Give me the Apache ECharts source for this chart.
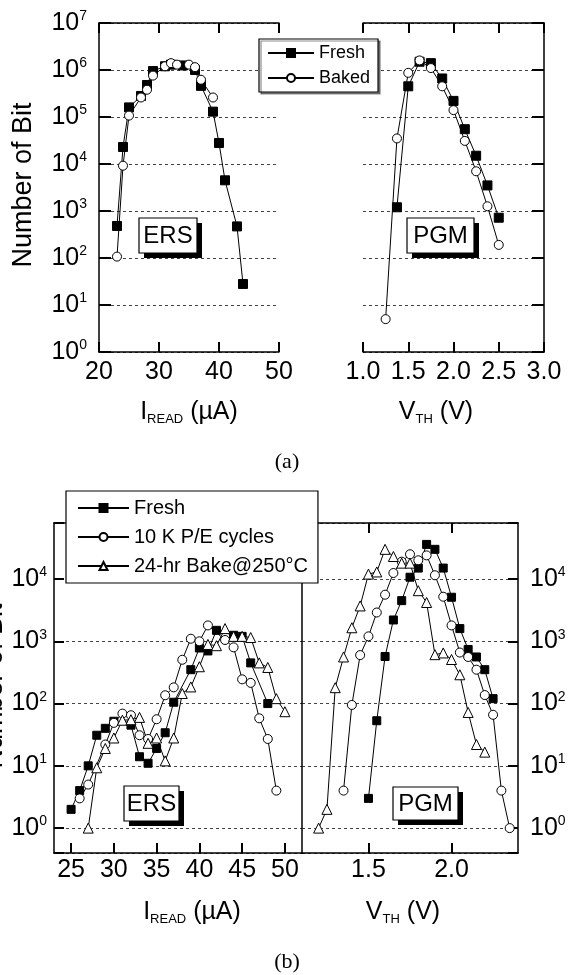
<!DOCTYPE html>
<html>
<head>
<meta charset="utf-8">
<script src="https://cdn.jsdelivr.net/npm/echarts@6/dist/echarts.min.js"></script>
<style>
  html, body { margin: 0; padding: 0; background: #fff; }
  #chart { width: 571px; height: 975px; }
</style>
</head>
<body>
<div id="chart"></div>
<script>
// ---- (a) erase window, I_READ in uA ----
const aErsFreshI = [23, 24, 25, 27, 28, 29, 31, 32, 34, 36, 37, 39, 40, 41, 43, 44];
const aErsFreshN = [480, 2.3e4, 1.6e5, 2.8e5, 4.8e5, 9.5e5, 1.2e6, 1.3e6, 1.25e6, 1.0e6, 4.6e5, 1.3e5, 2.8e4, 4.5e3, 470, 28];
const aErsBakedI = [23, 24, 25, 27, 28, 29, 31, 32, 33, 35, 36, 37, 39];
const aErsBakedN = [107, 9.2e3, 1.07e5, 2.6e5, 3.8e5, 7.6e5, 1.2e6, 1.4e6, 1.3e6, 1.3e6, 1.15e6, 6.2e5, 2.6e5];

// ---- (a) program window, V_TH in V ----
const aPgmFreshV = [1.375, 1.5, 1.625, 1.75, 1.875, 2.0, 2.125, 2.25, 2.375, 2.5];
const aPgmFreshN = [1.2e3, 4.5e5, 1.5e6, 1.4e6, 6.6e5, 2.2e5, 5.5e4, 1.5e4, 3.5e3, 720];
const aPgmBakedV = [1.25, 1.375, 1.5, 1.625, 1.75, 1.875, 2.0, 2.125, 2.25, 2.375, 2.5];
const aPgmBakedN = [5, 3.5e4, 8.7e5, 1.6e6, 1.1e6, 4.5e5, 1.4e5, 3.1e4, 7e3, 1.26e3, 190];

// ---- (b) erase window ----
const bErsFreshI = [25, 26, 27, 28, 29, 30, 32, 33, 34, 35, 36, 37, 39, 40, 41, 42, 44, 45, 46, 48];
const bErsFreshN = [2, 4, 10, 31, 40, 52, 45, 14, 11, 19, 34, 105, 350, 780, 700, 1500, 1250, 1200, 450, 100];
const bErsCycI = [26, 27, 29, 30, 31, 32, 33, 34, 35, 36, 37, 38, 39, 40, 41, 43, 44, 45, 46, 47, 48, 49];
const bErsCycN = [3, 5, 22, 49, 69, 65, 31, 27, 56, 136, 182, 505, 1100, 1000, 1800, 1050, 800, 245, 215, 58, 27, 4];
const bErsBakeI = [27, 28, 29, 30, 31, 32, 33, 34, 35, 36, 37, 38, 39, 40, 41, 42, 43, 44, 45, 46, 47, 48, 49, 50];
const bErsBakeN = [1, 9.3, 19, 28, 54, 55, 60, 23, 28, 12, 28, 145, 185, 390, 890, 850, 1600, 1200, 1200, 1150, 450, 380, 120, 74];

// ---- (b) program window ----
const bPgmFreshV = [1.5, 1.55, 1.6, 1.65, 1.7, 1.75, 1.8, 1.85, 1.9, 1.95, 2.0, 2.05, 2.1, 2.15, 2.2, 2.25];
const bPgmFreshN = [3, 53, 570, 2200, 4500, 1.07e4, 1.5e4, 3.6e4, 3.0e4, 1.5e4, 5100, 1600, 740, 560, 350, 120];
const bPgmCycV = [1.35, 1.4, 1.45, 1.5, 1.55, 1.6, 1.65, 1.7, 1.75, 1.8, 1.85, 1.9, 1.95, 2.0, 2.05, 2.1, 2.15, 2.2, 2.25, 2.3, 2.35];
const bPgmCycN = [4, 95, 600, 1200, 2900, 5600, 1.25e4, 1.9e4, 2.5e4, 2.0e4, 2.4e4, 1.15e4, 5200, 1800, 660, 560, 350, 137, 66, 4, 1];
const bPgmBakeV = [1.2, 1.25, 1.3, 1.35, 1.4, 1.45, 1.5, 1.55, 1.6, 1.65, 1.7, 1.75, 1.8, 1.85, 1.9, 1.95, 2.0, 2.05, 2.1, 2.15, 2.2];
const bPgmBakeN = [1, 2, 180, 560, 1650, 3700, 1.2e4, 1.3e4, 3.0e4, 2.3e4, 1.8e4, 1.8e4, 6500, 4200, 610, 650, 510, 290, 72, 22, 16.6];

// tick labels
const bErsTicks = [25, 30, 35, 40, 45, 50];
const bPgmTicks = [1.5, 2.0];

const F = '"Liberation Sans", Arial, sans-serif';

const chart = echarts.init(document.getElementById('chart'), null, { renderer: 'canvas' });

function pairs(xs, ys) { return xs.map((x, i) => [x, ys[i]]); }

function series(name, xs, ys, xi, yi, kind, size) {
  const fill = kind === 'rect' ? '#000' : '#fff';
  return {
    name: name, type: 'line', xAxisIndex: xi, yAxisIndex: yi,
    data: pairs(xs, ys), symbol: kind, symbolSize: size,
    showAllSymbol: true, clip: false,
    lineStyle: { color: '#000', width: 1 },
    itemStyle: { color: fill, borderColor: '#000', borderWidth: 1 },
    emphasis: { disabled: true }, animation: false
  };
}

const supRich = {
  b: { fontSize: 25, fontFamily: F, color: '#000' },
  s: { fontSize: 14, fontFamily: F, color: '#000', padding: [0, 0, 13, 0] }
};
function supLabel(v) {
  const e = Math.log10(v);
  if (Math.abs(e - Math.round(e)) > 1e-6) return '';
  return '{b|10}{s|' + Math.round(e) + '}';
}

const dash = { type: [3, 3], color: '#444', width: 1 };

function logY(grid, pos, min, max, labels, margin, tickLen) {
  return {
    type: 'log', logBase: 10, gridIndex: grid, position: pos, min: min, max: max,
    axisLine: { show: true, onZero: false, lineStyle: { color: '#000', width: 1.5 } },
    axisTick: { show: true, inside: true, length: tickLen, lineStyle: { color: '#000', width: 2 } },
    axisLabel: { show: labels, margin: margin, formatter: supLabel, rich: supRich },
    splitLine: { show: true, lineStyle: dash },
    minorTick: { show: false }, minorSplitLine: { show: false }
  };
}

function valX(grid, pos, min, max, opts) {
  const ax = {
    type: 'value', gridIndex: grid, position: pos, min: min, max: max,
    axisLine: { show: true, onZero: false, lineStyle: { color: '#000', width: 1.5 } },
    axisTick: { show: true, inside: true, length: 10, lineStyle: { color: '#000', width: 2 } },
    axisLabel: { show: pos === 'bottom', margin: opts.margin || 8, fontSize: 25, fontFamily: F, color: '#000',
      formatter: opts.fmt || (v => String(v)) },
    splitLine: { show: false }
  };
  if (opts.interval) ax.interval = opts.interval;
  if (opts.ticks) {
    ax.axisLabel.customValues = opts.ticks;
    ax.axisTick.customValues = opts.ticks;
  }
  return ax;
}

const fix1 = v => v.toFixed(1);

const option = {
  animation: false,
  backgroundColor: '#fff',
  grid: [
    { left: 99, top: 23, width: 180, height: 329 },
    { left: 363, top: 23, width: 181, height: 329 },
    { left: 54, top: 523, width: 248, height: 330 },
    { left: 302, top: 523, width: 216, height: 330 }
  ],
  xAxis: [
    valX(0, 'bottom', 20, 50, { interval: 10 }),
    valX(0, 'top', 20, 50, { interval: 10 }),
    valX(1, 'bottom', 1, 3, { interval: 0.5, fmt: fix1 }),
    valX(1, 'top', 1, 3, { interval: 0.5 }),
    valX(2, 'bottom', 23, 52, { ticks: bErsTicks, margin: 5 }),
    valX(2, 'top', 23, 52, { ticks: bErsTicks }),
    valX(3, 'bottom', 1.1, 2.4, { ticks: bPgmTicks, fmt: fix1, margin: 5 }),
    valX(3, 'top', 1.1, 2.4, { ticks: bPgmTicks })
  ],
  yAxis: [
    logY(0, 'left', 1, 1e7, true, 12, 12),
    logY(1, 'right', 1, 1e7, false, 12, 12),
    logY(2, 'left', Math.pow(10, -0.4), Math.pow(10, 4.9), true, 7, 10),
    logY(3, 'right', Math.pow(10, -0.4), Math.pow(10, 4.9), true, 12, 10),
    {
      type: 'log', logBase: 10, gridIndex: 3, position: 'left',
      min: Math.pow(10, -0.4), max: Math.pow(10, 4.9),
      axisLine: { show: true, onZero: false, lineStyle: { color: '#000', width: 1.5 } },
      axisTick: { show: false }, axisLabel: { show: false }, splitLine: { show: false }
    }
  ],
  legend: [
    {
      data: ['Fresh', 'Baked'], orient: 'vertical', left: 259, top: 39,
      itemWidth: 46, itemHeight: 10, itemGap: 7, padding: [5, 8, 5, 8],
      backgroundColor: '#fff', borderColor: '#000', borderWidth: 1.2,
      shadowColor: 'rgba(0,0,0,0.45)', shadowOffsetX: 2, shadowOffsetY: 2, shadowBlur: 0,
      textStyle: { fontSize: 18, fontFamily: F, color: '#000' }, selectedMode: false
    },
    {
      data: ['Fresh', '10 K P/E cycles', '24-hr Bake@250°C'], orient: 'vertical', left: 66, top: 491,
      itemWidth: 51, itemHeight: 10, itemGap: 9, padding: [7, 10, 7, 11],
      backgroundColor: '#fff', borderColor: '#000', borderWidth: 1.2,
      textStyle: { fontSize: 20, fontFamily: F, color: '#000' }, selectedMode: false
    }
  ],
  series: [
    series('Fresh', aErsFreshI, aErsFreshN, 0, 0, 'rect', 9),
    series('Baked', aErsBakedI, aErsBakedN, 0, 0, 'circle', 9),
    series('Fresh', aPgmFreshV, aPgmFreshN, 2, 1, 'rect', 9),
    series('Baked', aPgmBakedV, aPgmBakedN, 2, 1, 'circle', 9),
    series('Fresh', bErsFreshI, bErsFreshN, 4, 2, 'rect', 8),
    series('10 K P/E cycles', bErsCycI, bErsCycN, 4, 2, 'circle', 9),
    series('24-hr Bake@250°C', bErsBakeI, bErsBakeN, 4, 2, 'triangle', 10),
    series('Fresh', bPgmFreshV, bPgmFreshN, 6, 3, 'rect', 8),
    series('10 K P/E cycles', bPgmCycV, bPgmCycN, 6, 3, 'circle', 9),
    series('24-hr Bake@250°C', bPgmBakeV, bPgmBakeN, 6, 3, 'triangle', 10)
  ],
  graphic: []
};

function tagBox(x, y, w, h, label) {
  return [
    { type: 'rect', z: 100, shape: { x: x + 5, y: y + 5, width: w, height: h }, style: { fill: '#000' } },
    { type: 'rect', z: 101, shape: { x: x, y: y, width: w, height: h }, style: { fill: '#fff', stroke: '#000', lineWidth: 1.2 } },
    { type: 'text', z: 102, x: x + w / 2, y: y + h / 2 + 1,
      style: { text: label, fill: '#000', font: '24px ' + F, textAlign: 'center', textVerticalAlign: 'middle' } }
  ];
}

const titleRich = {
  m: { fontSize: 25, fontFamily: F, color: '#000' },
  s: { fontSize: 13, fontFamily: F, color: '#000', padding: [15, 0, 0, 0] }
};
function axisTitle(x, y, main, sub, rest) {
  return { type: 'text', z: 100, x: x, y: y,
    style: { text: '{m|' + main + '}{s|' + sub + '}{m|' + rest + '}', rich: titleRich,
      textAlign: 'center', textVerticalAlign: 'middle' } };
}

option.graphic = [].concat(
  tagBox(139, 218, 58, 35, 'ERS'),
  tagBox(407, 218, 67, 35, 'PGM'),
  tagBox(124, 786, 55, 35, 'ERS'),
  tagBox(393, 787, 65, 33, 'PGM'),
  [
    axisTitle(189, 412, 'I', 'READ', ' (\u00b5A)'),
    axisTitle(436, 412, 'V', 'TH', ' (V)'),
    axisTitle(192, 912, 'I', 'READ', ' (\u00b5A)'),
    axisTitle(403, 912, 'V', 'TH', ' (V)'),
    { type: 'text', z: 100, x: 287, y: 462,
      style: { text: '(a)', fill: '#000', font: '22px "Liberation Serif", "Times New Roman", serif', textAlign: 'center', textVerticalAlign: 'middle' } },
    { type: 'text', z: 100, x: 287, y: 962,
      style: { text: '(b)', fill: '#000', font: '22px "Liberation Serif", "Times New Roman", serif', textAlign: 'center', textVerticalAlign: 'middle' } },
    { type: 'text', z: 100, x: 24, y: 185, rotation: Math.PI / 2,
      style: { text: 'Number of Bit', fill: '#000', font: '27px ' + F, textAlign: 'center', textVerticalAlign: 'middle' } },
    { type: 'text', z: 100, x: -5, y: 686, rotation: Math.PI / 2,
      style: { text: 'Number of Bit', fill: '#000', font: '27px ' + F, textAlign: 'center', textVerticalAlign: 'middle' } }
  ]
);

chart.setOption(option);
</script>
</body>
</html>
